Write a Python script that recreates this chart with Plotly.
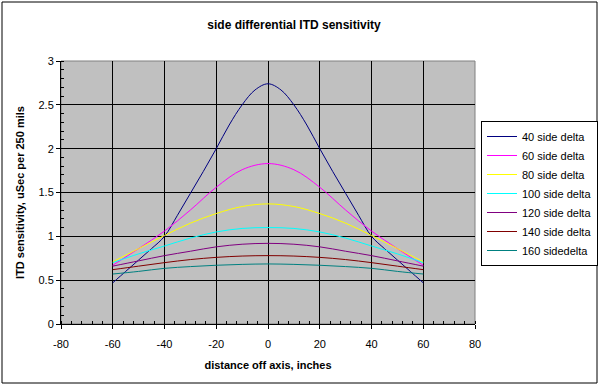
import plotly.graph_objects as go

x_coarse = [-60, -50, -40, -30, -20, -10, 0, 10, 20, 30, 40, 50, 60]
x_fine = [-60, -55, -50, -45, -40, -35, -30, -25, -20, -15, -10, -5, 0,
          5, 10, 15, 20, 25, 30, 35, 40, 45, 50, 55, 60]

def mirror(half):
    return half + half[-2::-1]

s40 = mirror([0.47, 0.60, 0.73, 0.86, 1.00, 1.24, 1.49, 1.74, 2.00, 2.27, 2.50, 2.67, 2.74])
s60 = mirror([0.67, 0.86, 1.06, 1.30, 1.56, 1.76, 1.83])
s80 = mirror([0.71, 0.86, 1.01, 1.15, 1.26, 1.34, 1.37])
s100 = mirror([0.70, 0.80, 0.89, 0.98, 1.05, 1.09, 1.10])
s120 = mirror([0.66, 0.72, 0.78, 0.83, 0.88, 0.91, 0.92])
s140 = mirror([0.62, 0.66, 0.70, 0.735, 0.76, 0.775, 0.78])
s160 = mirror([0.57, 0.60, 0.635, 0.655, 0.67, 0.68, 0.685])

series_names = ["40 side delta", "60 side delta", "80 side delta", "100 side delta",
                "120 side delta", "140 side delta", "160 sidedelta"]
series_x = [x_fine, x_coarse, x_coarse, x_coarse, x_coarse, x_coarse, x_coarse]
series_values = [s40, s60, s80, s100, s120, s140, s160]
series_colors = ["#000080", "#FF00FF", "#FFFF00", "#00FFFF", "#800080", "#800000", "#008080"]

x_ticks = [-80, -60, -40, -20, 0, 20, 40, 60, 80]
y_ticks = [0, 0.5, 1, 1.5, 2, 2.5, 3]
y_tick_labels = ["0", "0.5", "1", "1.5", "2", "2.5", "3"]

FONT = "Liberation Sans, Arial, sans-serif"

fig = go.Figure()
for name, xs, vals, col in zip(series_names, series_x, series_values, series_colors):
    fig.add_trace(go.Scatter(x=xs, y=vals, name=name, mode="lines",
                             line=dict(color=col, width=1, shape="spline", smoothing=1.0)))

L, R, T, B = 61, 125, 61, 62
PW, PH = 600 - L - R, 386 - T - B
fig.update_layout(
    width=600, height=386,
    margin=dict(l=L, r=R, t=T, b=B, autoexpand=False),
    paper_bgcolor="white",
    plot_bgcolor="#C0C0C0",
    font=dict(family=FONT, size=11, color="black"),
    title=dict(text="<b>side differential ITD sensitivity</b>", x=0.49, xanchor="center",
               y=1 - 25 / 386, yanchor="middle", font=dict(size=12, family=FONT)),
    xaxis=dict(range=[-80, 80], tickvals=x_ticks, ticktext=[str(v) for v in x_ticks],
               showgrid=True, gridcolor="black", gridwidth=1,
               showline=True, linecolor="black", linewidth=1,
               ticks="outside", ticklen=4, tickcolor="black", ticklabelstandoff=6,
               minor=dict(dtick=4, ticks="inside", ticklen=3, tickcolor="black", showgrid=False),
               zeroline=False,
               title=dict(text="<b>distance off axis, inches</b>", standoff=12,
                          font=dict(size=11, family=FONT))),
    yaxis=dict(range=[0, 3], tickvals=y_ticks, ticktext=y_tick_labels,
               showgrid=True, gridcolor="black", gridwidth=1,
               showline=True, linecolor="black", linewidth=1,
               ticks="outside", ticklen=4, tickcolor="black",
               minor=dict(dtick=0.1, ticks="inside", ticklen=3, tickcolor="black", showgrid=False),
               zeroline=False,
               title=dict(text="<b>ITD sensitivity, uSec per 250 mils</b>", standoff=11,
                          font=dict(size=11, family=FONT))),
    legend=dict(x=(481 - L) / PW, xanchor="left", y=(324 - 121) / PH, yanchor="top",
                bgcolor="white", bordercolor="black", borderwidth=1,
                font=dict(size=11, family=FONT), tracegroupgap=0, itemwidth=30),
    showlegend=True,
)

# plot-area border (grey) and outer chart border
fig.add_shape(type="rect", xref="paper", yref="paper", x0=0, x1=1, y0=0, y1=1,
              line=dict(color="#808080", width=1), layer="below")
fig.add_shape(type="rect", xref="paper", yref="paper",
              x0=(2 - L) / PW, x1=(597 - L) / PW,
              y0=(324 - 383) / PH, y1=(324 - 2) / PH,
              line=dict(color="black", width=1))

fig.write_html("out.html", config={"displayModeBar": False},
               post_script="document.body.style.margin='0';")
